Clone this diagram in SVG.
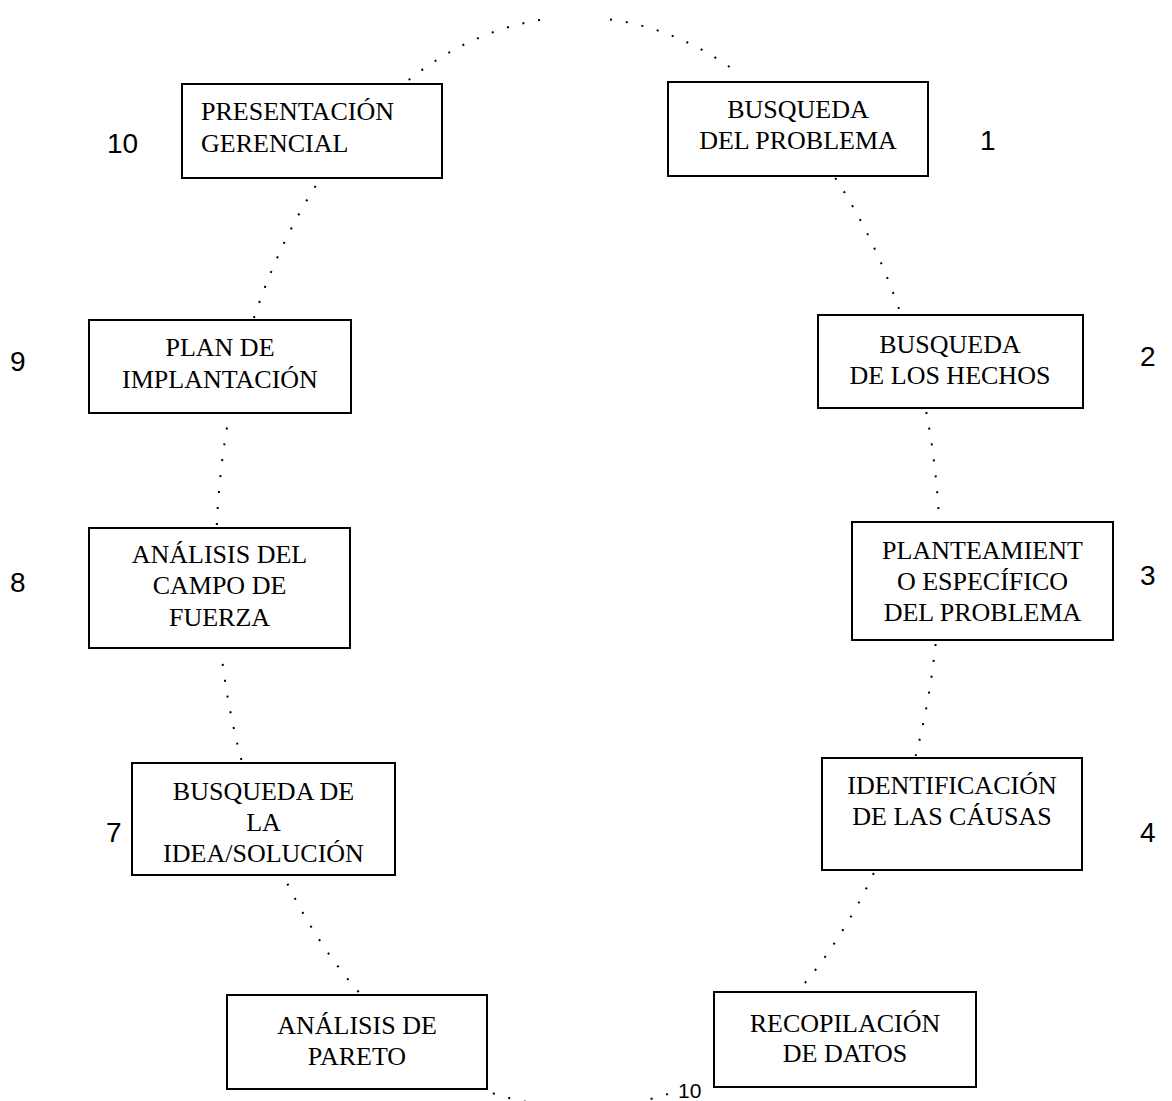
<svg xmlns="http://www.w3.org/2000/svg" width="1172" height="1101" viewBox="0 0 1172 1101">
<style>
.box{fill:#fff;stroke:#000;stroke-width:2}
.t{font-family:"Liberation Serif","Times New Roman",serif;font-size:26px;fill:#000}
.c{text-anchor:middle}
.n{font-family:"Liberation Sans",Arial,sans-serif;font-size:28px;fill:#000}
.dot{fill:none;stroke:#000;stroke-width:2;stroke-dasharray:2 14}
</style>
<rect width="1172" height="1101" fill="#fff"/>
<g id="connectors">
<path class="dot" d="M408.7 80 A362 543 0 0 1 545 19.3"/>
<path class="dot" d="M610 19.4 A362 543 0 0 1 732.6 69"/>
<path class="dot" d="M835.3 178 A362 543 0 0 1 900.4 313"/>
<path class="dot" d="M926.3 412 A362 543 0 0 1 939.1 521"/>
<path class="dot" d="M935.6 644 A362 543 0 0 1 915.6 756"/>
<path class="dot" d="M873.8 873 A362 543 0 0 1 799.9 989"/>
<path class="dot" d="M668 1094 Q580 1122 489 1092"/>
<path class="dot" d="M358.7 992 A362 543 0 0 1 284.6 878"/>
<path class="dot" d="M241.4 760 A362 543 0 0 1 221.2 652"/>
<path class="dot" d="M216.8 525 A362 543 0 0 1 229 416"/>
<path class="dot" d="M253.9 318 A362 543 0 0 1 318.8 181"/>
</g>
<g id="n10">
<rect class="box" x="182" y="84" width="260" height="94"/>
<text class="t" x="201" y="120">PRESENTACIÓN</text>
<text class="t" x="201" y="152">GERENCIAL</text>
<text class="n" x="107" y="153">10</text>
</g>
<g id="n1">
<rect class="box" x="668" y="82" width="260" height="94"/>
<text class="t c" x="798" y="118">BUSQUEDA</text>
<text class="t c" x="798" y="149">DEL PROBLEMA</text>
<text class="n" x="980" y="150">1</text>
</g>
<g id="n2">
<rect class="box" x="818" y="315" width="265" height="93"/>
<text class="t c" x="950" y="353">BUSQUEDA</text>
<text class="t c" x="950" y="384">DE LOS HECHOS</text>
<text class="n" x="1140" y="366">2</text>
</g>
<g id="n3">
<rect class="box" x="852" y="522" width="261" height="118"/>
<text class="t c" x="982.5" y="559">PLANTEAMIENT</text>
<text class="t c" x="982.5" y="590">O ESPECÍFICO</text>
<text class="t c" x="982.5" y="621">DEL PROBLEMA</text>
<text class="n" x="1140" y="585">3</text>
</g>
<g id="n4">
<rect class="box" x="822" y="758" width="260" height="112"/>
<text class="t c" x="952" y="794">IDENTIFICACIÓN</text>
<text class="t c" x="952" y="825">DE LAS CÁUSAS</text>
<text class="n" x="1140" y="842">4</text>
</g>
<g id="n5">
<rect class="box" x="714" y="992" width="262" height="95"/>
<text class="t c" x="845" y="1032">RECOPILACIÓN</text>
<text class="t c" x="845" y="1062">DE DATOS</text>
</g>
<g id="n6">
<rect class="box" x="227" y="995" width="260" height="94"/>
<text class="t c" x="357" y="1034">ANÁLISIS DE</text>
<text class="t c" x="357" y="1065">PARETO</text>
</g>
<g id="n7">
<rect class="box" x="132" y="763" width="263" height="112"/>
<text class="t c" x="263.5" y="800">BUSQUEDA DE</text>
<text class="t c" x="263.5" y="831">LA</text>
<text class="t c" x="263.5" y="862">IDEA/SOLUCIÓN</text>
<text class="n" x="106" y="842">7</text>
</g>
<g id="n8">
<rect class="box" x="89" y="528" width="261" height="120"/>
<text class="t c" x="219.5" y="563">ANÁLISIS DEL</text>
<text class="t c" x="219.5" y="594">CAMPO DE</text>
<text class="t c" x="219.5" y="626">FUERZA</text>
<text class="n" x="10" y="592">8</text>
</g>
<g id="n9">
<rect class="box" x="89" y="320" width="262" height="93"/>
<text class="t c" x="220" y="356">PLAN DE</text>
<text class="t c" x="220" y="388">IMPLANTACIÓN</text>
<text class="n" x="10" y="371">9</text>
</g>
<g id="lbl-bottom">
<text class="n" x="678" y="1098" style="font-size:21px">10</text>
</g>
</svg>
